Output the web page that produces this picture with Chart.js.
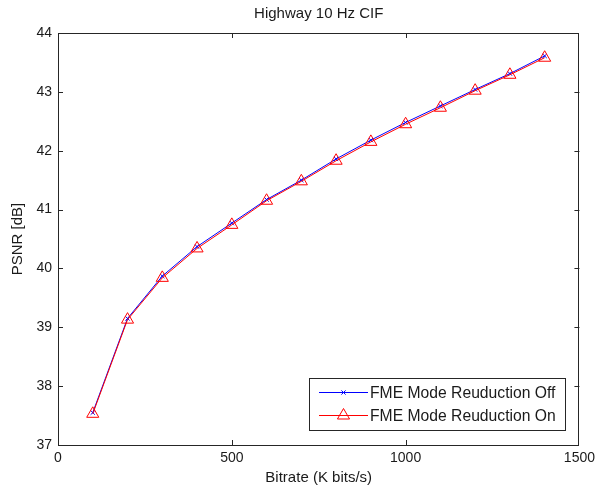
<!DOCTYPE html>
<html><head><meta charset="utf-8">
<script src="https://cdn.jsdelivr.net/npm/chart.js@4/dist/chart.umd.min.js"></script>
<style>html,body{margin:0;padding:0;background:#fff}canvas{display:block}</style>
</head><body>
<canvas id="c" width="600" height="495"></canvas>
<script>
const chartTitle = 'Highway 10 Hz CIF';
const xLabel = 'Bitrate (K bits/s)';
const yLabel = 'PSNR [dB]';
const bitrates = [100, 200, 300, 400, 500, 600, 700, 800, 900, 1000, 1100, 1200, 1300, 1400];
const psnrOff = [37.55, 39.15, 39.87, 40.37, 40.77, 41.17, 41.50, 41.86, 42.18, 42.48, 42.76, 43.04, 43.31, 43.61];
const psnrOn  = [37.53, 39.13, 39.84, 40.34, 40.74, 41.15, 41.48, 41.83, 42.15, 42.45, 42.73, 43.02, 43.29, 43.58];
const seriesNames = ['FME Mode Reuduction Off', 'FME Mode Reuduction On'];
const xTicks = [0, 500, 1000, 1500];
const yTicks = [37, 38, 39, 40, 41, 42, 43, 44];

const FONT = 'Liberation Sans, Arial, Helvetica, sans-serif';
const TXT = '#1a1a1a';

const toPts = (xs, ys) => xs.map((x, i) => ({x: x, y: ys[i]}));

const framePlugin = {
  id: 'frame',
  afterDraw(chart) {
    const {ctx, chartArea: a, scales} = chart;
    const xs = scales.x, ys = scales.y;
    ctx.save();
    ctx.strokeStyle = '#262626';
    ctx.lineWidth = 1;
    ctx.strokeRect(Math.round(a.left) + 0.5, Math.round(a.top) + 0.5,
                   Math.round(a.right - a.left) - 1, Math.round(a.bottom - a.top));
    const tl = 5;
    ctx.beginPath();
    xs.ticks.forEach(t => {
      const p = Math.round(xs.getPixelForValue(t.value)) + 0.5;
      if (p <= a.left + 1 || p >= a.right - 1) return;
      ctx.moveTo(p, a.bottom); ctx.lineTo(p, a.bottom - tl);
      ctx.moveTo(p, a.top); ctx.lineTo(p, a.top + tl);
    });
    ys.ticks.forEach(t => {
      const p = Math.round(ys.getPixelForValue(t.value)) + 0.5;
      if (p <= a.top + 1 || p >= a.bottom - 1) return;
      ctx.moveTo(a.left, p); ctx.lineTo(a.left + tl, p);
      ctx.moveTo(a.right, p); ctx.lineTo(a.right - tl, p);
    });
    ctx.stroke();

    // legend
    const bx = 309.5, by = 378.5, bw = 256, bh = 52;
    ctx.fillStyle = '#fff';
    ctx.fillRect(bx, by, bw, bh);
    ctx.strokeStyle = '#262626';
    ctx.strokeRect(bx, by, bw, bh);
    const rows = [392.5, 415.5];
    chart.data.datasets.forEach((ds, i) => {
      const y = rows[i];
      ctx.strokeStyle = ds.borderColor;
      ctx.lineWidth = 1;
      ctx.beginPath(); ctx.moveTo(319, y); ctx.lineTo(368, y); ctx.stroke();
      ctx.fillStyle = 'rgba(0,0,0,0)';
      Chart.helpers.drawPoint(ctx, {pointStyle: ds.pointStyle, radius: ds.pointRadius, rotation: 0, borderWidth: 1}, 343.5, y);
      ctx.fillStyle = TXT;
      ctx.font = '15.7px ' + FONT;
      ctx.textAlign = 'left';
      ctx.textBaseline = 'middle';
      ctx.fillText(ds.label, 370, y + 1);
    });
    ctx.restore();
  }
};

new Chart(document.getElementById('c'), {
  type: 'line',
  data: {
    datasets: [
      {label: seriesNames[0], data: toPts(bitrates, psnrOff), borderColor: '#0000ff', backgroundColor: '#0000ff',
       borderWidth: 1, pointStyle: 'crossRot', pointRadius: 3, pointBorderWidth: 1, pointBorderColor: '#0000ff',
       pointBackgroundColor: 'rgba(0,0,0,0)', tension: 0, order: 1},
      {label: seriesNames[1], data: toPts(bitrates, psnrOn), borderColor: '#ff0000', backgroundColor: '#ff0000',
       borderWidth: 1, pointStyle: 'triangle', pointRadius: 7, pointBorderWidth: 1, pointBorderColor: '#ff0000',
       pointBackgroundColor: 'rgba(0,0,0,0)', tension: 0, order: 0}
    ]
  },
  options: {
    responsive: false,
    animation: false,
    events: [],
    layout: {padding: {left: 0, right: 18, top: 0, bottom: 0}},
    plugins: {
      legend: {display: false},
      tooltip: {enabled: false},
      title: {display: true, text: chartTitle, fullSize: false, color: TXT,
              font: {family: FONT, size: 15, weight: 'normal', lineHeight: 1.2},
              padding: {top: 5, bottom: 10}}
    },
    scales: {
      x: {
        type: 'linear', min: 0, max: 1500,
        afterBuildTicks: s => { s.ticks = xTicks.map(v => ({value: v})); },
        afterFit: s => { s.height = 50; },
        grid: {display: false, drawTicks: false},
        border: {display: false},
        ticks: {color: TXT, font: {family: FONT, size: 14}, padding: 5, maxRotation: 0, autoSkip: false,
                callback: v => String(v)},
        title: {display: true, text: xLabel, color: TXT, font: {family: FONT, size: 15}, padding: {top: 0, bottom: 8}}
      },
      y: {
        type: 'linear', min: 37, max: 44,
        afterBuildTicks: s => { s.ticks = yTicks.map(v => ({value: v})); },
        afterFit: s => { s.width = 58; },
        grid: {display: false, drawTicks: false},
        border: {display: false},
        ticks: {color: TXT, font: {family: FONT, size: 14}, padding: 6, autoSkip: false,
                callback: v => String(v)},
        title: {display: true, text: yLabel, color: TXT, font: {family: FONT, size: 15}, padding: {top: 9, bottom: 0}}
      }
    }
  },
  plugins: [framePlugin]
});
</script>
</body></html>
